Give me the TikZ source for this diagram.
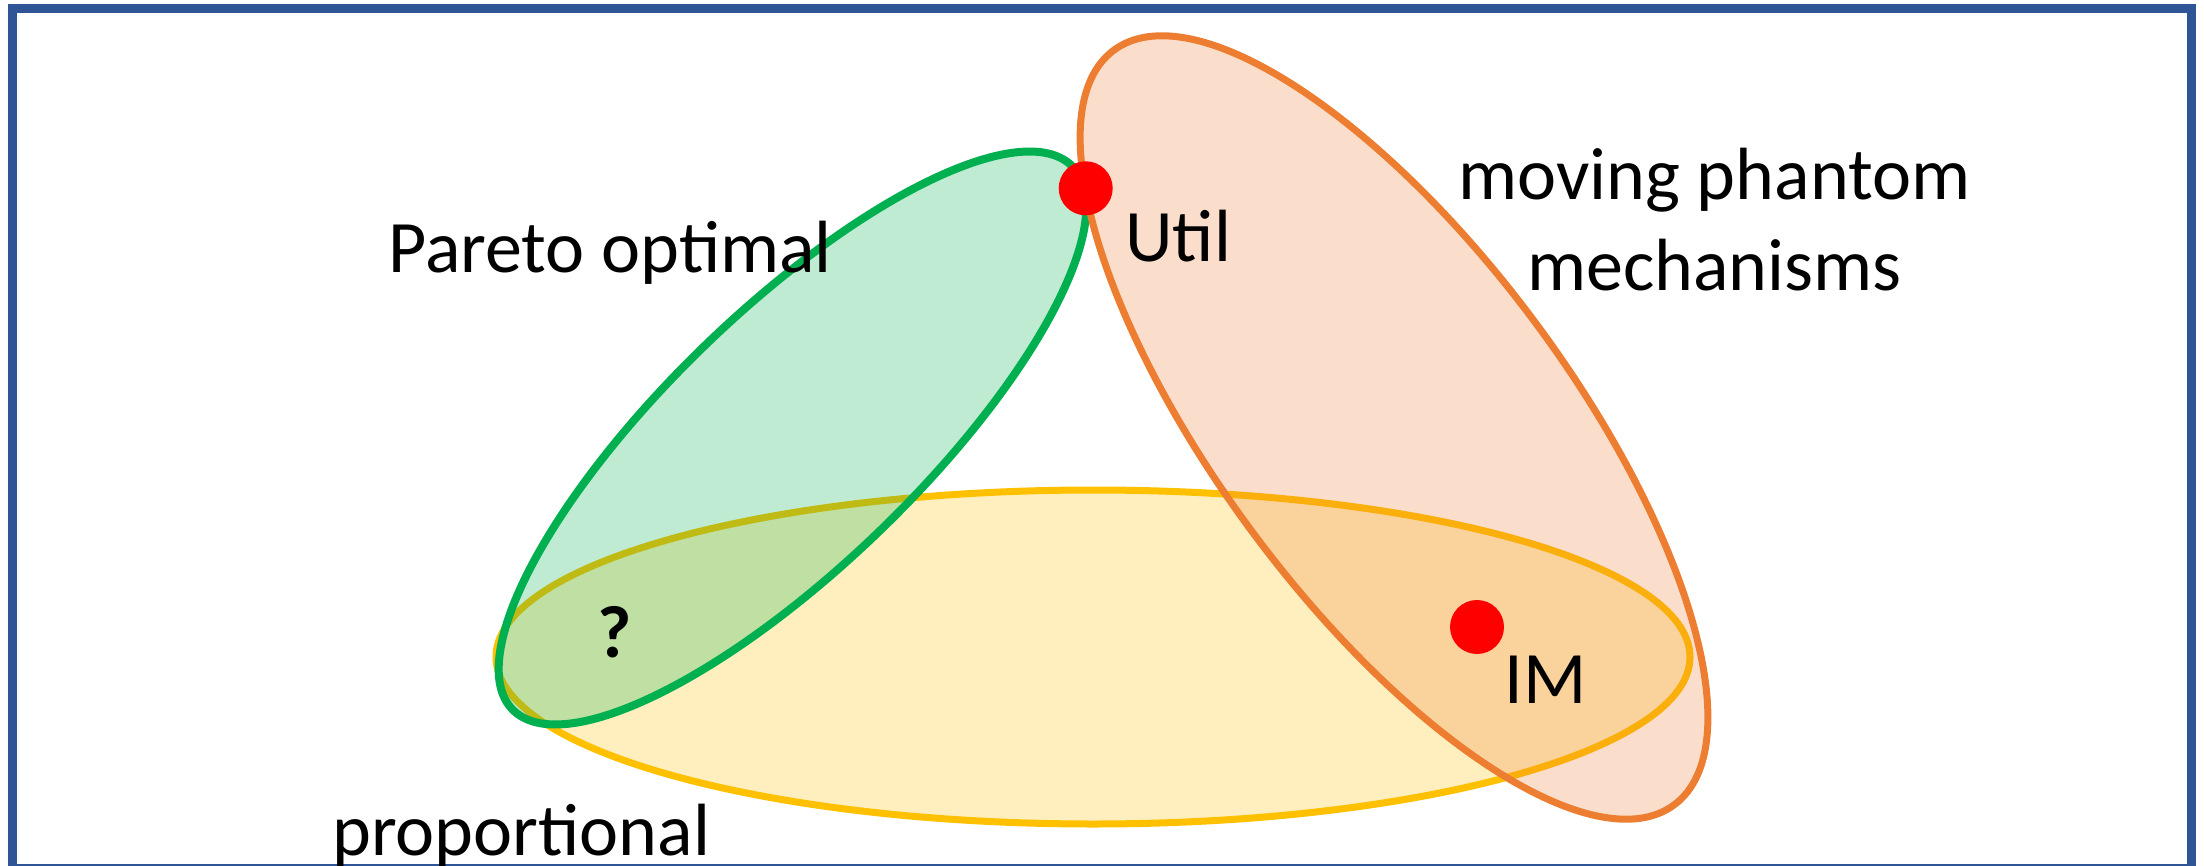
\documentclass[tikz,border=0pt]{standalone}
\usepackage{fontspec}
\setmainfont{Carlito}
\definecolor{bordblue}{HTML}{2F5597}
\definecolor{sgreen}{HTML}{00B050}
\definecolor{sorange}{HTML}{ED7D31}
\definecolor{syellow}{HTML}{FFC000}
\begin{document}
\begin{tikzpicture}[x=0.5pt,y=-0.5pt,
  setarea/.style={draw=#1, fill=#1, fill opacity=0.25, line width=3.5pt},
  reddot/.style={circle, fill=red, draw=none, inner sep=0pt, minimum size=27pt},
  lbl/.style={inner sep=0pt, font=\fontsize{37}{45}\selectfont}]
\useasboundingbox (0,0) rectangle (2204,866);
\clip (0,0) rectangle (2204,866);
\draw[bordblue, line width=4.5pt] (12.5,8.5) rectangle (2191.5,868.5);
% proportional (yellow)
\draw[setarea=syellow] (1093,657) ellipse [x radius=597, y radius=167];
% Pareto optimal (green)
\draw[setarea=sgreen, line width=4pt, rotate around={44.1:(792.5,438)}] (792.5,438) ellipse [x radius=390, y radius=127.4];
% moving phantom (orange)
\draw[setarea=sorange, rotate around={-53.4:(1394,427.5)}] (1394,427.5) ellipse [x radius=470, y radius=176];
% points
\node[reddot] (util) at (1085.7,188.3) {};
\node[reddot] (im) at (1477,627) {};
% labels
\node[lbl, anchor=base west] (pareto) at (388,272) {Pareto optimal};
\node[lbl, anchor=base west] (utillbl) at (1125,262) {Util};
\node[lbl, anchor=base, align=center] (mpm) at (1714.5,290) {moving phantom\\mechanisms};
\node[lbl, anchor=base west] (imlbl) at (1504,703) {IM};
\node[lbl, anchor=base, font=\fontsize{37}{45}\selectfont\bfseries] (q) at (615,657) {?};
\node[lbl, anchor=base west] (prop) at (332,855) {proportional};
\end{tikzpicture}
\end{document}
